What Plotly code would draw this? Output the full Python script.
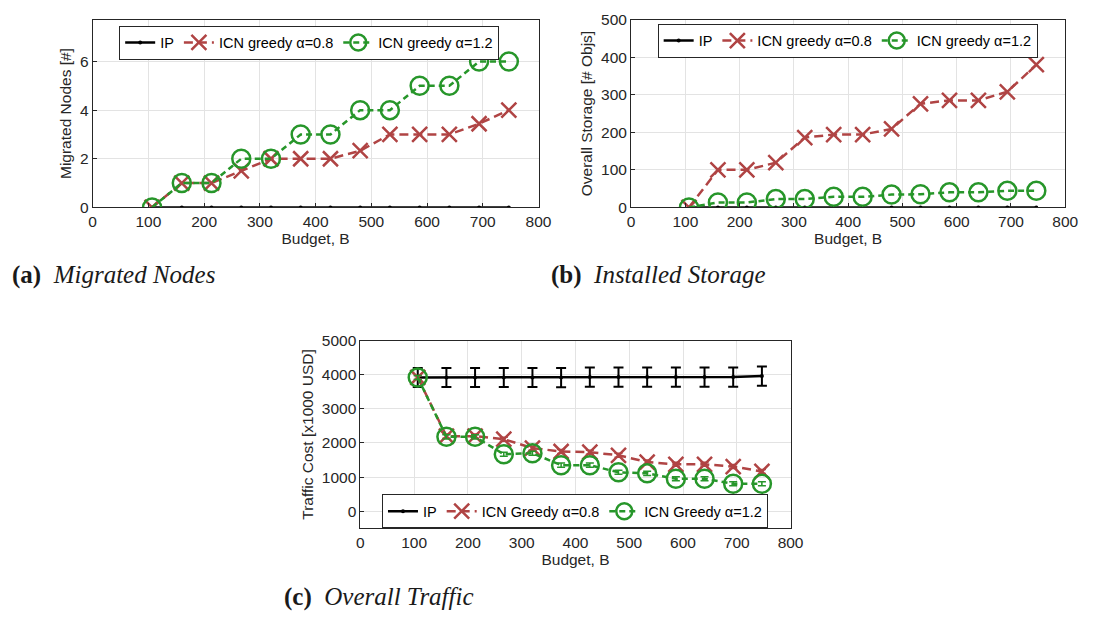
import plotly.graph_objects as go

budget = [106.7, 160, 213.3, 266.7, 320, 373.3, 426.7, 480, 533.3, 586.7, 640, 693.3, 746.7]

# (a) Migrated nodes
mig_ip = [0] * 13
mig_a08 = [0, 1, 1, 1.5, 2, 2, 2, 2.33, 3, 3, 3, 3.44, 4]
mig_a12 = [0, 1, 1, 2, 2, 3, 3, 4, 4, 5, 5, 6, 6]

# (b) Installed storage
sto_ip = [0] * 13
sto_a08 = [0, 100, 100, 119, 186, 194, 194, 209, 276, 285, 285, 308, 380]
sto_a12 = [0, 13, 13, 22, 22, 28, 28, 34, 35, 40, 40, 44, 44]

# (c) Overall traffic
tr_ip = [3920, 3920, 3920, 3920, 3920, 3915, 3930, 3930, 3930, 3930, 3930, 3930, 3960]
tr_ip_err = [280] * 13
tr_a08 = [3920, 2200, 2200, 2110, 1850, 1750, 1730, 1640, 1440, 1375, 1375, 1310, 1165]
tr_a08_err = [60] * 13
tr_a12 = [3920, 2180, 2180, 1670, 1700, 1350, 1350, 1140, 1110, 950, 950, 806, 806]
tr_a12_err = [60] * 13

BLACK = "#000000"
RED = "#B04444"
GREEN = "#27962A"
FONT = "Liberation Sans"
TXT = "#262626"

fig = go.Figure()

def add_set(xa, ya, leg, ip, a08, a12, names, errs=None):
    e_ip = e08 = e12 = None
    if errs:
        e_ip = dict(type="data", array=errs[0], color=BLACK, thickness=2, width=5)
        e08 = dict(type="data", array=errs[1], color=RED, thickness=1.5, width=4)
        e12 = dict(type="data", array=errs[2], color=GREEN, thickness=1.5, width=4)
    fig.add_trace(go.Scatter(x=budget, y=ip, name=names[0], xaxis=xa, yaxis=ya, legend=leg,
                             mode="lines+markers", line=dict(color=BLACK, width=2.5),
                             marker=dict(symbol="circle", size=4, color=BLACK), error_y=e_ip))
    fig.add_trace(go.Scatter(x=budget, y=a08, name=names[1], xaxis=xa, yaxis=ya, legend=leg,
                             mode="lines+markers", line=dict(color=RED, width=2.5, dash="9px,5px"),
                             marker=dict(symbol="x-thin-open", size=15, color=RED,
                                         line=dict(color=RED, width=2.5)), error_y=e08))
    fig.add_trace(go.Scatter(x=budget, y=a12, name=names[2], xaxis=xa, yaxis=ya, legend=leg,
                             mode="lines+markers", line=dict(color=GREEN, width=2.5, dash="6px,4px"),
                             marker=dict(symbol="circle-open", size=18, color=GREEN,
                                         line=dict(color=GREEN, width=2.5)), error_y=e12))

add_set("x", "y", "legend", mig_ip, mig_a08, mig_a12,
        ["IP", "ICN greedy α=0.8", "ICN greedy α=1.2"])
add_set("x2", "y2", "legend2", sto_ip, sto_a08, sto_a12,
        ["IP", "ICN greedy α=0.8", "ICN greedy α=1.2"])
add_set("x3", "y3", "legend3", tr_ip, tr_a08, tr_a12,
        ["IP", "ICN Greedy α=0.8", "ICN Greedy α=1.2"],
        errs=[tr_ip_err, tr_a08_err, tr_a12_err])

W, H = 1093, 617
def dx(a, b):
    return [a / W, b / W]
def dy(top, bot):
    return [1 - bot / H, 1 - top / H]

ax_common = dict(showline=True, linecolor=TXT, linewidth=1, mirror=True,
                 showgrid=True, gridcolor="#E3E3E3", gridwidth=1, zeroline=False,
                 ticks="inside", ticklen=4, tickcolor=TXT,
                 tickfont=dict(family=FONT, size=15.5, color=TXT))
xt = dict(tickmode="array", tickvals=[0, 100, 200, 300, 400, 500, 600, 700, 800], range=[0, 800],
          title=dict(text="Budget, B", font=dict(family=FONT, size=15.5, color=TXT), standoff=1))

def ytitle(t):
    return dict(text=t, font=dict(family=FONT, size=15.5, color=TXT), standoff=4)

def leg(xc, ytop):
    return dict(orientation="h", x=xc, y=ytop, xanchor="center", yanchor="top",
                bgcolor="white", bordercolor=TXT, borderwidth=1,
                font=dict(family=FONT, size=14.5, color="#000000"),
                itemwidth=30, tracegroupgap=0, itemsizing="trace")

fig.update_layout(
    width=W, height=H, margin=dict(l=0, r=0, t=0, b=0),
    paper_bgcolor="white", plot_bgcolor="white", showlegend=True,
    xaxis=dict(domain=dx(90, 543), anchor="y", **xt, **ax_common),
    yaxis=dict(domain=dy(11, 204), anchor="x", range=[0, 7.72], tickvals=[0, 2, 4, 6],
               title=ytitle("Migrated Nodes [#]"), **ax_common),
    xaxis2=dict(domain=dx(637, 1078), anchor="y2", **xt, **ax_common),
    yaxis2=dict(domain=dy(11, 204), anchor="x2", range=[0, 500], tickvals=[0, 100, 200, 300, 400, 500],
                title=ytitle("Overall Storage [# Objs]"), **ax_common),
    xaxis3=dict(domain=dx(362, 799), anchor="y3", **xt, **ax_common),
    yaxis3=dict(domain=dy(341, 534), anchor="x3", range=[-500, 5000],
                tickvals=[0, 1000, 2000, 3000, 4000, 5000],
                title=ytitle("Traffic Cost [x1000 USD]"), **ax_common),
    legend=leg(310 / W, 1 - 17 / H),
    legend2=leg(857 / W, 1 - 15 / H),
    legend3=leg(580 / W, 1 - 499 / H),
)

cap_font = dict(family="Liberation Serif", size=25, color="#1a1a1a")
caps = [("(a)", "Migrated Nodes", 6, 274), ("(b)", "Installed Storage", 554, 274), ("(c)", "Overall Traffic", 282, 605)]
for lab, txt, px, py in caps:
    fig.add_annotation(text=f"<b>{lab}</b>&nbsp;&nbsp;<i>{txt}</i>", xref="paper", yref="paper",
                       x=px / W, y=1 - py / H, xanchor="left", yanchor="middle",
                       showarrow=False, font=cap_font)

fig.write_html("out.html", config={"displayModeBar": False},
               post_script="document.body.style.margin='0px';document.body.style.overflow='hidden';")
